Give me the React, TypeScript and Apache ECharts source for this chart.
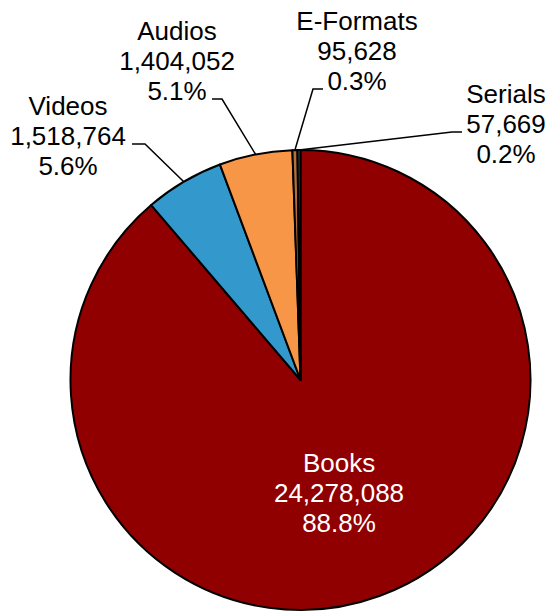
import React, { useEffect, useRef } from "react";
import * as echarts from "echarts";

const categories = ["Books", "Videos", "Audios", "E-Formats", "Serials"];
const values = [24278088, 1518764, 1404052, 95628, 57669];
const colors = ["#900000", "#3399CC", "#F79646", "#B8703A", "#2E4F4F"];

// label block centres and leader elbows (layout only)
const labelPos: Record<string, { x: number; y: number; elbow?: [number, number]; end?: [number, number] }> = {
  Books: { x: 339, y: 493 },
  Videos: { x: 68, y: 136, elbow: [145, 144], end: [132, 144] },
  Audios: { x: 177, y: 61, elbow: [222, 99], end: [212, 99] },
  "E-Formats": { x: 357, y: 51, elbow: [313, 89], end: [323, 89] },
  Serials: { x: 506, y: 124, elbow: [452, 132], end: [462, 132] },
};

export default function App() {
  const ref = useRef<HTMLDivElement>(null);
  useEffect(() => {
    document.body.style.margin = "0";
    if (!ref.current) return;
    const chart = echarts.init(ref.current, null, { renderer: "svg" });
    const total = values.reduce((a, b) => a + b, 0);
    const data = categories.map((name, i) => ({
      name,
      value: values[i],
      itemStyle: { color: colors[i] },
      label:
        name === "Books"
          ? { position: "inside", color: "#fff" }
          : { position: "outside", color: "#000" },
      labelLine: { show: name !== "Books" },
    }));
    chart.setOption({
      animation: false,
      series: [
        {
          type: "pie",
          center: [300.5, 380],
          radius: [0, 230],
          startAngle: 90,
          clockwise: true,
          avoidLabelOverlap: false,
          data,
          itemStyle: { borderColor: "#000", borderWidth: 2 },
          label: {
            show: true,
            fontFamily: "'Liberation Sans', Arial, sans-serif",
            fontSize: 26,
            lineHeight: 30,
            align: "center",
            formatter: (p: any) =>
              `${p.name}\n${Number(p.value).toLocaleString("en-US")}\n${((p.value / total) * 100).toFixed(1)}%`,
          },
          labelLine: {
            show: true,
            lineStyle: { color: "#000", width: 1.5 },
            length: 10,
            length2: 10,
          },
          labelLayout: (params: any) => {
            const name = categories[params.dataIndex];
            const pos = labelPos[name];
            if (!pos) return {};
            const out: any = { x: pos.x, y: pos.y, align: "center", verticalAlign: "middle" };
            if (pos.elbow && params.labelLinePoints) {
              const p0 = params.labelLinePoints[0];
              out.labelLinePoints = [p0, pos.elbow, pos.end];
            }
            return out;
          },
        },
      ],
    });
    return () => chart.dispose();
  }, []);
  return <div ref={ref} style={{ width: 549, height: 613 }} />;
}
